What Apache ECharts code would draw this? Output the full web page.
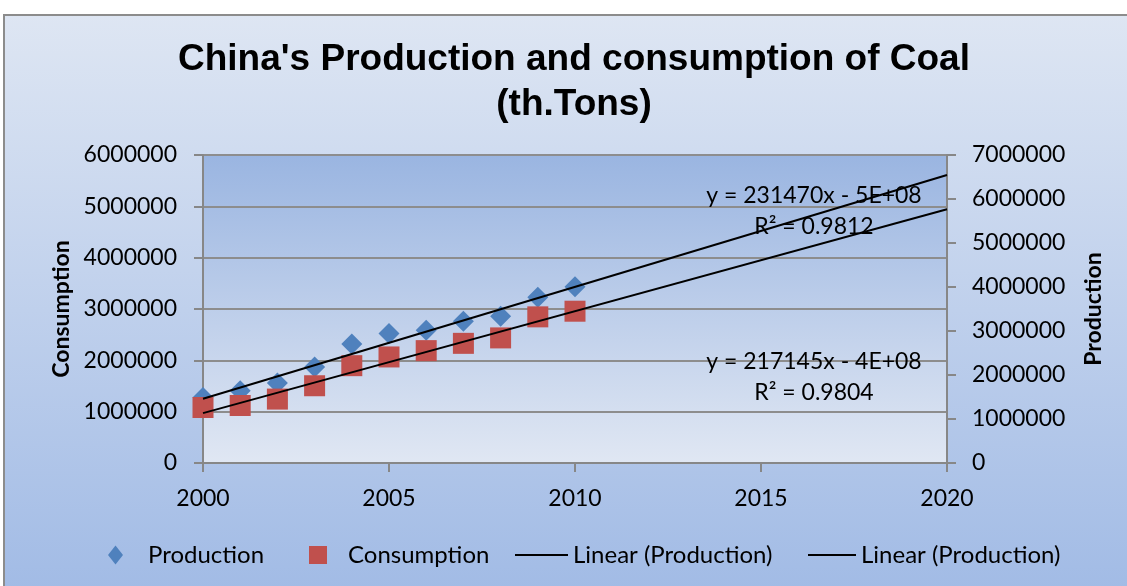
<!DOCTYPE html>
<html>
<head>
<meta charset="utf-8">
<title>China's Production and consumption of Coal</title>
<script src="https://cdn.jsdelivr.net/npm/echarts@6/dist/echarts.min.js"></script>
<style>
    html, body { margin: 0; padding: 0; background: #ffffff; }
    #main { width: 1127px; height: 586px; }
</style>
</head>
<body>
<div id="main"></div>
<script>
// values (th. tons)
var years = [2000, 2001, 2002, 2003, 2004, 2005, 2006, 2007, 2008, 2009, 2010];
var production = [1489000, 1642000, 1817000, 2182000, 2706000, 2941000, 3016000, 3222000, 3336000, 3769000, 4006000];
var consumption = [1081000, 1120000, 1245000, 1505000, 1896000, 2066000, 2189000, 2331000, 2437000, 2847000, 2957000];

// trend lines, end points at 2000 and 2020
var trendYears = [2000, 2020];
var productionTrend = [1459000, 6544000];   // right axis
var consumptionTrend = [971000, 4944000];   // left axis

var equations = [
    'y = 231470x - 5E+08\nR² = 0.9812',
    'y = 217145x - 4E+08\nR² = 0.9804'
];

var FONT = 'Lato';

function pairs(xs, ys) {
    var res = [];
    for (var i = 0; i < xs.length; i++) {
        res.push([xs[i], ys[i]]);
    }
    return res;
}

// plain numbers, no thousands separator
function plain(v) {
    return String(v);
}

var chart = echarts.init(document.getElementById('main'));

var axisGrey = '#878787';
var legendText = { fontSize: 24, fontFamily: FONT, color: '#000' };

var option = {
    animation: false,
    textStyle: { fontFamily: FONT },
    graphic: [
        {
            type: 'rect',
            z: -100,
            shape: { x: 4, y: 15, width: 1140, height: 590 },
            style: {
                fill: new echarts.graphic.LinearGradient(0, 0, 0, 1, [
                    { offset: 0, color: '#dee6f3' },
                    { offset: 1, color: '#a0bae5' }
                ]),
                stroke: '#8c8c8c',
                lineWidth: 2
            }
        },
        {
            type: 'text',
            x: 574,
            y: 82,
            style: {
                text: "China's Production and consumption of Coal\n(th.Tons)",
                font: 'bold 37px "Liberation Sans", Arial, sans-serif',
                fill: '#000000',
                align: 'center',
                verticalAlign: 'middle',
                lineHeight: 45
            }
        },
        {
            type: 'text',
            x: 814,
            y: 211,
            z: 10,
            style: {
                text: equations[0],
                font: '23px ' + FONT,
                fill: '#000000',
                align: 'center',
                verticalAlign: 'middle',
                lineHeight: 31
            }
        },
        {
            type: 'text',
            x: 814,
            y: 377,
            z: 10,
            style: {
                text: equations[1],
                font: '23px ' + FONT,
                fill: '#000000',
                align: 'center',
                verticalAlign: 'middle',
                lineHeight: 31
            }
        }
    ],
    legend: [
        {
            data: ['Production'],
            left: 103, top: 538,
            icon: 'diamond', itemWidth: 15, itemHeight: 19,
            textStyle: Object.assign({ padding: [0, 0, 0, 20] }, legendText)
        },
        {
            data: ['Consumption'],
            left: 304, top: 538,
            icon: 'rect', itemWidth: 18, itemHeight: 18,
            textStyle: Object.assign({ padding: [0, 0, 0, 16] }, legendText)
        },
        {
            data: ['Linear (Production)'],
            left: 510, top: 538,
            icon: 'rect', itemWidth: 53, itemHeight: 2,
            textStyle: legendText
        },
        {
            data: ['Linear (Production) '],
            left: 803, top: 538,
            icon: 'rect', itemWidth: 48, itemHeight: 2,
            textStyle: legendText
        }
    ],
    grid: {
        left: 203,
        right: 180,
        top: 155,
        bottom: 123,
        show: true,
        borderWidth: 0,
        backgroundColor: new echarts.graphic.LinearGradient(0, 0, 0, 1, [
            { offset: 0, color: '#9ab5e1' },
            { offset: 1, color: '#e0e7f3' }
        ])
    },
    xAxis: {
        type: 'value',
        min: 2000,
        max: 2020,
        interval: 5,
        axisLine: { onZero: false, lineStyle: { color: axisGrey, width: 2 } },
        axisTick: { show: true, length: 9, lineStyle: { color: axisGrey, width: 2 } },
        splitLine: { show: false },
        axisLabel: { fontSize: 23, color: '#000', margin: 24, fontFamily: FONT, formatter: plain }
    },
    yAxis: [
        {
            type: 'value',
            min: 0,
            max: 6000000,
            interval: 1000000,
            name: 'Consumption',
            nameLocation: 'middle',
            nameGap: 130,
            nameRotate: 90,
            nameTextStyle: { fontSize: 23, fontWeight: 'bold', color: '#000', fontFamily: FONT },
            axisLine: { show: true, lineStyle: { color: axisGrey, width: 2 } },
            axisTick: { show: true, length: 9, lineStyle: { color: axisGrey, width: 2 } },
            splitLine: { show: true, lineStyle: { color: '#8d8d8d', width: 2 } },
            axisLabel: { fontSize: 23, color: '#000', margin: 26, fontFamily: FONT, formatter: plain }
        },
        {
            type: 'value',
            min: 0,
            max: 7000000,
            interval: 1000000,
            position: 'right',
            name: 'Production',
            nameLocation: 'middle',
            nameGap: 135,
            nameRotate: 90,
            nameTextStyle: { fontSize: 23, fontWeight: 'bold', color: '#000', fontFamily: FONT },
            axisLine: { show: true, lineStyle: { color: axisGrey, width: 2 } },
            axisTick: { show: true, length: 9, lineStyle: { color: axisGrey, width: 2 } },
            splitLine: { show: false },
            axisLabel: { fontSize: 23, color: '#000', margin: 25, fontFamily: FONT, formatter: plain }
        }
    ],
    series: [
        {
            name: 'Production',
            type: 'scatter',
            yAxisIndex: 1,
            symbol: 'diamond',
            symbolSize: [21, 21],
            itemStyle: { color: '#4f81bd', opacity: 1 },
            data: pairs(years, production)
        },
        {
            name: 'Consumption',
            type: 'scatter',
            yAxisIndex: 0,
            symbol: 'rect',
            symbolSize: [21, 21],
            itemStyle: { color: '#c0504d', opacity: 1 },
            data: pairs(years, consumption)
        },
        {
            name: 'Linear (Production)',
            type: 'line',
            yAxisIndex: 1,
            symbol: 'none',
            itemStyle: { color: '#000' },
            lineStyle: { color: '#000', width: 2 },
            data: pairs(trendYears, productionTrend)
        },
        {
            name: 'Linear (Production) ',
            type: 'line',
            yAxisIndex: 0,
            symbol: 'none',
            itemStyle: { color: '#000' },
            lineStyle: { color: '#000', width: 2 },
            data: pairs(trendYears, consumptionTrend)
        }
    ]
};

chart.setOption(option);
</script>
</body>
</html>
